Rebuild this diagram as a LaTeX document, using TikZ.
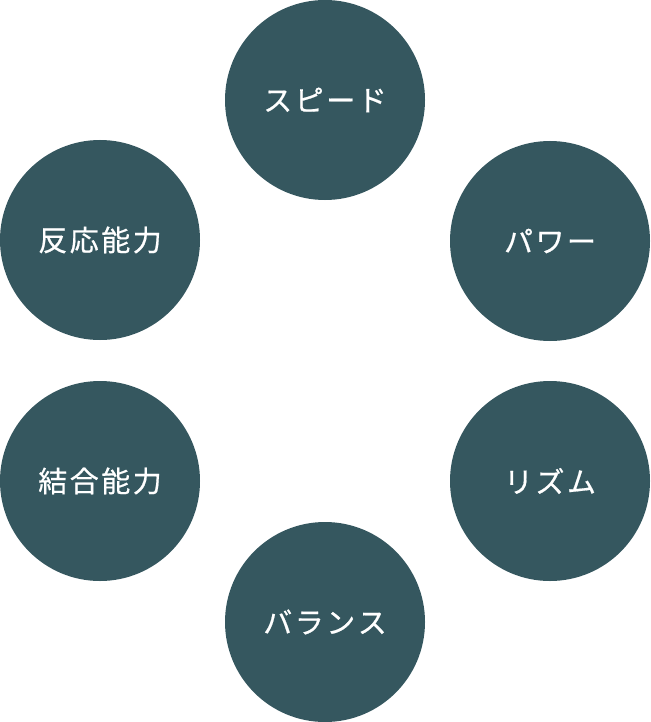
\documentclass[tikz,border=0pt]{standalone}
\usepackage{fontspec}
\newfontfamily\jpfont[FakeBold=0.6]{Noto Sans CJK JP}
\usetikzlibrary{positioning}
\definecolor{deepteal}{HTML}{35575F}
\newcommand{\gap}{\kern2.5pt}

\begin{document}
\begin{tikzpicture}[x=1pt,y=-1pt,
    ability/.style={circle, fill=deepteal, minimum size=200pt, inner sep=0pt,
      text=white, font=\jpfont\fontsize{29}{31}\selectfont}]

           % Page frame
           \useasboundingbox (0,0) rectangle (650,722);

           % Top and bottom
           \node[ability] (speed) at (325,100) {ス\gap ピ\gap ー\gap ド};
           \node[ability] (balance) at (325,622) {バ\gap ラ\gap ン\gap ス};

           % Right side
           \node[ability] (power) at (550,241) {パ\gap ワ\gap ー};
           \node[ability] (rhythm) at (550,481) {リ\gap ズ\gap ム};

           % Left side
           \node[ability] (reaction) at (100,240) {反\gap 応\gap 能\gap 力};
           \node[ability] (coupling) at (100,481) {結\gap 合\gap 能\gap 力};

\end{tikzpicture}
\end{document}
